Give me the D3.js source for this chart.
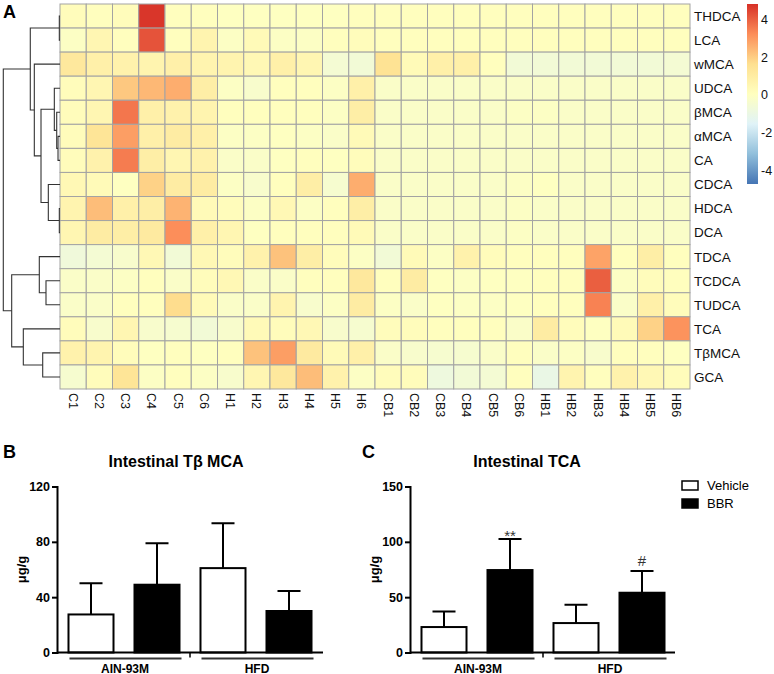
<!DOCTYPE html>
<html>
<head>
<meta charset="utf-8">
<script src="https://cdn.jsdelivr.net/npm/d3@7"></script>
<style>
  html, body { margin: 0; padding: 0; background: #fff; }
  svg { display: block; font-family: "Liberation Sans", Arial, sans-serif; }
</style>
</head>
<body>
<svg id="chart" width="774" height="674"></svg>
<script>
// ---------------- DATA ----------------
const rowLabels = ["THDCA","LCA","wMCA","UDCA","βMCA","αMCA","CA","CDCA","HDCA","DCA","TDCA","TCDCA","TUDCA","TCA","TβMCA","GCA"];
const colLabels = ["C1","C2","C3","C4","C5","C6","H1","H2","H3","H4","H5","H6",
                   "CB1","CB2","CB3","CB4","CB5","CB6","HB1","HB2","HB3","HB4","HB5","HB6"];
// z-scores, one array per row (columns in colLabels order)
const zTHDCA = [0.2,0.1,0.2,4.7,0.1,0.1, 0.0,0.0,0.0,0.0,0.0,0.1, 0.1,0.1,0.1,0.1,0.1,0.1, 0.1,0.1,0.1,0.1,0.1,0.1];
const zLCA   = [-0.1,0.5,0.1,4.2,0.1,0.6, -0.1,0.3,-0.1,-0.1,0.1,0.2, 0.1,0.1,0.1,0.1,0.1,0.1, 0.1,0.1,0.1,0.1,0.1,0.1];
const zwMCA  = [1.2,0.8,0.7,0.6,0.8,0.6, 0.6,0.4,0.8,0.5,-0.5,-0.6, 1.5,0.3,0.8,0.8,0.1,-0.6, -0.6,-0.6,-0.6,-0.6,-0.6,-0.5];
const zUDCA  = [0.2,0.5,2.1,2.4,2.6,0.9, -0.1,-0.3,0.1,0.1,-0.1,0.8, -0.2,-0.2,-0.2,-0.2,-0.2,-0.2, -0.2,-0.2,-0.2,-0.2,-0.2,-0.2];
const zbMCA  = [0.2,0.5,3.6,0.8,0.7,0.6, 0.1,0.1,0.1,0.1,-0.1,0.9, -0.2,-0.2,-0.2,-0.2,-0.2,-0.1, -0.1,-0.2,-0.2,-0.2,-0.2,-0.2];
const zaMCA  = [0.2,1.4,2.9,0.8,1.0,0.8, -0.1,-0.1,0.0,-0.1,-0.2,0.3, -0.2,-0.2,-0.2,-0.2,-0.2,-0.2, -0.2,-0.2,-0.2,-0.2,-0.2,-0.2];
const zCA    = [0.2,0.7,3.5,0.9,0.5,0.7, -0.2,-0.2,0.0,0.1,0.0,0.2, -0.2,-0.2,-0.2,-0.2,-0.2,-0.2, -0.2,-0.2,-0.2,-0.2,-0.2,-0.2];
const zCDCA  = [0.4,0.3,0.0,1.9,1.0,1.0, -0.1,-0.3,0.1,0.9,-0.4,2.6, -0.2,-0.2,-0.2,-0.2,-0.2,-0.1, 0.0,-0.2,-0.2,-0.2,-0.2,-0.2];
const zHDCA  = [0.6,2.3,0.8,0.9,2.5,0.3, 0.2,-0.1,0.4,-0.1,0.1,0.9, -0.2,-0.2,-0.2,-0.2,-0.2,-0.1, -0.2,-0.2,-0.2,-0.2,-0.2,-0.2];
const zDCA   = [0.5,1.0,0.9,1.1,3.2,0.8, 0.5,0.0,0.1,0.1,0.1,0.3, -0.2,-0.2,-0.2,-0.2,-0.2,-0.1, -0.2,-0.2,-0.2,-0.2,-0.2,-0.2];
const zTDCA  = [-0.7,-0.5,-0.3,0.4,-0.6,0.4, 0.2,0.7,2.2,0.9,0.2,-0.1, -0.6,0.3,-0.1,0.7,0.2,0.1, 0.1,0.1,2.8,0.1,0.9,0.1];
const zTCDCA = [-0.2,-0.2,-0.1,0.1,-0.2,0.2, 0.4,-0.2,-0.2,0.1,0.1,1.2, 0.1,1.0,0.0,-0.1,0.0,0.0, 0.1,0.1,4.0,-0.1,0.2,0.1];
const zTUDCA = [-0.2,-0.2,0.1,0.1,1.7,0.3, -0.2,-0.2,0.6,-0.3,-0.1,1.0, -0.1,-0.2,0.0,-0.1,-0.1,0.0, 0.1,0.1,3.4,-0.2,0.8,0.2];
const zTCA   = [0.2,-0.3,0.5,-0.3,-0.4,-0.6, -0.3,0.3,0.2,0.4,-0.3,-0.4, 0.2,0.2,0.1,0.1,0.1,-0.2, 1.0,0.2,0.0,0.3,1.9,3.1];
const zTbMCA = [0.7,0.6,0.2,0.0,0.1,0.0, 0.1,2.2,2.9,1.1,0.3,0.8, -0.2,-0.3,-0.4,-0.4,-0.2,0.1, -0.2,-0.1,-0.3,0.1,0.1,0.0];
const zGCA   = [-0.4,0.2,1.4,-0.1,0.1,-0.1, -0.3,0.5,1.2,2.3,0.7,-0.1, 0.2,0.2,-0.8,-0.6,-0.5,0.1, -1.0,0.6,0.1,0.7,0.4,0.2];
const heatRows = [zTHDCA,zLCA,zwMCA,zUDCA,zbMCA,zaMCA,zCA,zCDCA,zHDCA,zDCA,zTDCA,zTCDCA,zTUDCA,zTCA,zTbMCA,zGCA];

const legendTicks = [4, 2, 0, -2, -4];
const colorDomain = [-4.7, 4.8];
const paletteColors = ["#4575B4","#91BFDB","#E0F3F8","#FFFFBF","#FEE090","#FC8D59","#D73027"];

// row dendrogram (hclust-style merges: negative = leaf index+1, positive = merge step)
const mergeLeft   = [-1, -6, -5, -4, -9, -8, 4, -3, 1, -12, -11, -15, -14, 11, 9];
const mergeRight  = [-2, -7,  2,  3, -10, 5, 6,  7, 8, -13,  10, -16,  12, 13, 14];
const mergeHeight = [0.12,0.35,0.58,1.0,0.12,2.06,3.35,4.53,5.24,2.47,3.65,3.05,6.47,8.52,10];

// bar charts
const groups = ["AIN-93M","HFD"];
const treatments = ["Vehicle","BBR"];
const barKeys = ["AIN-93M|Vehicle","AIN-93M|BBR","HFD|Vehicle","HFD|BBR"];
const tbmcaMean = [27.5, 49, 61, 30];
const tbmcaErr  = [22.5, 30, 32.5, 14.5];
const tcaMean = [23, 74.5, 26.6, 54];
const tcaErr  = [14, 28, 16.5, 19.7];
const tcaSig  = ["", "**", "", "#"];
const tbmcaTicks = [0, 40, 80, 120];
const tcaTicks = [0, 50, 100, 150];

// ---------------- DRAW ----------------
const svg = d3.select("#chart");

// panel letters
[["A",3,18],["B",3,458],["C",362,458]].forEach(([t,x,y]) => {
  svg.append("text").attr("x",x).attr("y",y).attr("font-size",18).attr("font-weight","bold").text(t);
});

// ---- Heatmap ----
const hm = {left: 60, right: 690, top: 4, bottom: 389};
const xCell = d3.scaleBand().domain(colLabels).range([hm.left, hm.right]);
const yCell = d3.scaleBand().domain(rowLabels).range([hm.top, hm.bottom]);
const colorStops = d3.range(paletteColors.length).map(i => colorDomain[0] + i*(colorDomain[1]-colorDomain[0])/(paletteColors.length-1));
const color = d3.scaleLinear().domain(colorStops).range(paletteColors).clamp(true);

const cells = [];
heatRows.forEach((r, i) => r.forEach((v, j) => cells.push({row: rowLabels[i], col: colLabels[j], v})));
svg.append("g").selectAll("rect").data(cells).join("rect")
  .attr("x", d => xCell(d.col)).attr("y", d => yCell(d.row))
  .attr("width", xCell.bandwidth()).attr("height", yCell.bandwidth())
  .attr("fill", d => color(d.v)).attr("stroke", "#a3a3a3").attr("stroke-width", 1);

svg.append("g").selectAll("text").data(rowLabels).join("text")
  .attr("x", hm.right + 4).attr("y", d => yCell(d) + yCell.bandwidth()/2)
  .attr("dy", "0.36em").attr("font-size", 13.5).attr("fill", "#111").text(d => d);

svg.append("g").selectAll("text").data(colLabels).join("text")
  .attr("transform", d => `translate(${xCell(d) + xCell.bandwidth()/2},${hm.bottom + 4}) rotate(90)`)
  .attr("dy", "0.36em").attr("font-size", 12.5).attr("fill", "#111").text(d => d);

// dendrogram
const dScale = d3.scaleLinear().domain([0, 10]).range([hm.left, 3.3]);
const nodePos = [];
function pos(ref) {
  if (ref < 0) { const lab = rowLabels[-ref-1]; return {x: hm.left, y: yCell(lab) + yCell.bandwidth()/2}; }
  return nodePos[ref-1];
}
const dendroPaths = [];
mergeHeight.forEach((h, k) => {
  const a = pos(mergeLeft[k]), b = pos(mergeRight[k]);
  const x = dScale(h);
  nodePos.push({x, y: (a.y + b.y)/2});
  dendroPaths.push(`M${a.x},${a.y}H${x}V${b.y}H${b.x}`);
});
svg.append("g").selectAll("path").data(dendroPaths).join("path")
  .attr("d", d => d).attr("fill", "none").attr("stroke", "#333").attr("stroke-width", 1.1);

// colorbar
const cb = {x: 747, w: 11, top: 4, bottom: 184};
const cbScale = d3.scaleLinear().domain(colorDomain).range([cb.bottom, cb.top]);
const grad = svg.append("defs").append("linearGradient").attr("id","cbgrad")
  .attr("x1",0).attr("y1",1).attr("x2",0).attr("y2",0);
colorStops.forEach((s, i) => grad.append("stop")
  .attr("offset", (s - colorDomain[0])/(colorDomain[1]-colorDomain[0])).attr("stop-color", paletteColors[i]));
svg.append("rect").attr("x", cb.x).attr("y", cb.top).attr("width", cb.w).attr("height", cb.bottom - cb.top)
  .attr("fill", "url(#cbgrad)");
svg.append("g").selectAll("text").data(legendTicks).join("text")
  .attr("x", cb.x + cb.w + 3).attr("y", d => cbScale(d)).attr("dy","0.36em")
  .attr("font-size", 12.5).attr("fill","#111").text(d => d);

// ---- Bar charts ----
function barPanel(opts) {
  const {axisX, axisRight, title, titleX, mean, err, ticks, yMax, sig} = opts;
  const y0 = 652.5, yTop = 486.5;
  const y = d3.scaleLinear().domain([0, yMax]).range([y0, yTop]);
  const x = d3.scaleBand().domain(barKeys).range([axisX + 1, axisX + 265]).paddingInner(0.318).paddingOuter(0.159);
  const g = svg.append("g");

  g.append("text").attr("x", titleX).attr("y", 467).attr("text-anchor","middle")
    .attr("font-size", 16).attr("font-weight","bold").text(title);

  // y axis
  const yAxis = d3.axisLeft(y).tickValues(ticks).tickSize(5).tickPadding(2);
  const ya = g.append("g").attr("transform", `translate(${axisX},0)`).call(yAxis);
  ya.select(".domain").attr("stroke","#000").attr("stroke-width",2);
  ya.selectAll(".tick line").attr("stroke","#000").attr("stroke-width",2);
  ya.selectAll(".tick text").attr("font-size",12.5).attr("font-weight","bold")
    .attr("font-family","Liberation Sans, Arial, sans-serif").attr("fill","#000");

  // y label
  g.append("text").attr("transform", `translate(${axisX - 36},${(y0+yTop)/2}) rotate(-90)`)
    .attr("text-anchor","middle").attr("dy","0.35em").attr("font-size",13).attr("font-weight","bold").text("μg/g");

  // bars
  g.selectAll("rect.bar").data(barKeys).join("rect").attr("class","bar")
    .attr("x", d => x(d)).attr("y", (d,i) => y(mean[i]))
    .attr("width", x.bandwidth()).attr("height", (d,i) => y0 - y(mean[i]))
    .attr("fill", d => d.endsWith("BBR") ? "#000" : "#fff").attr("stroke","#000").attr("stroke-width",2);

  // error bars (upper only)
  g.selectAll("path.err").data(barKeys).join("path").attr("class","err")
    .attr("d", (d,i) => {
      const cx = x(d) + x.bandwidth()/2, yt = y(mean[i] + err[i]);
      return `M${cx},${y(mean[i])}V${yt}M${cx-11.5},${yt}H${cx+11.5}`;
    })
    .attr("fill","none").attr("stroke","#000").attr("stroke-width",2);

  if (sig) {
    g.selectAll("text.sig").data(barKeys).join("text").attr("class","sig")
      .attr("x", d => x(d) + x.bandwidth()/2)
      .attr("y", (d,i) => y(mean[i] + err[i]) + (sig[i] === "**" ? 2 : -5))
      .attr("text-anchor","middle").attr("font-size", d => 15).attr("fill","#333").text((d,i) => sig[i]);
  }

  // x axis line
  g.append("line").attr("x1", axisX).attr("x2", axisRight).attr("y1", y0).attr("y2", y0)
    .attr("stroke","#000").attr("stroke-width",2);

  // group brackets
  groups.forEach((grp, gi) => {
    const a = x(grp + "|" + treatments[0]), b = x(grp + "|" + treatments[1]) + x.bandwidth();
    g.append("line").attr("x1", a + 1).attr("x2", b + 2).attr("y1", 658.5).attr("y2", 658.5)
      .attr("stroke","#333").attr("stroke-width",2);
    g.append("text").attr("x", (a + b)/2 + 1).attr("y", 672.5).attr("text-anchor","middle")
      .attr("font-size",12).attr("font-weight","bold").text(grp);
  });
  const sepX = (x("AIN-93M|BBR") + x.bandwidth() + x("HFD|Vehicle"))/2;
  g.append("line").attr("x1", sepX).attr("x2", sepX).attr("y1", y0).attr("y2", y0 + 5)
    .attr("stroke","#000").attr("stroke-width",1.5);
}

barPanel({axisX: 57, axisRight: 323, title: "Intestinal Tβ MCA", titleX: 176,
          mean: tbmcaMean, err: tbmcaErr, ticks: tbmcaTicks, yMax: 120, sig: null});
barPanel({axisX: 410, axisRight: 675, title: "Intestinal TCA", titleX: 527,
          mean: tcaMean, err: tcaErr, ticks: tcaTicks, yMax: 150, sig: tcaSig});

// legend
const leg = svg.append("g");
treatments.forEach((t, i) => {
  const yy = 481 + i*18;
  leg.append("rect").attr("x", 682).attr("y", yy).attr("width", 16).attr("height", 9)
    .attr("fill", i === 0 ? "#fff" : "#000").attr("stroke","#000").attr("stroke-width",1.5);
  leg.append("text").attr("x", 707).attr("y", yy + 4.5).attr("dy","0.36em")
    .attr("font-size",13).text(t);
});
</script>
</body>
</html>
